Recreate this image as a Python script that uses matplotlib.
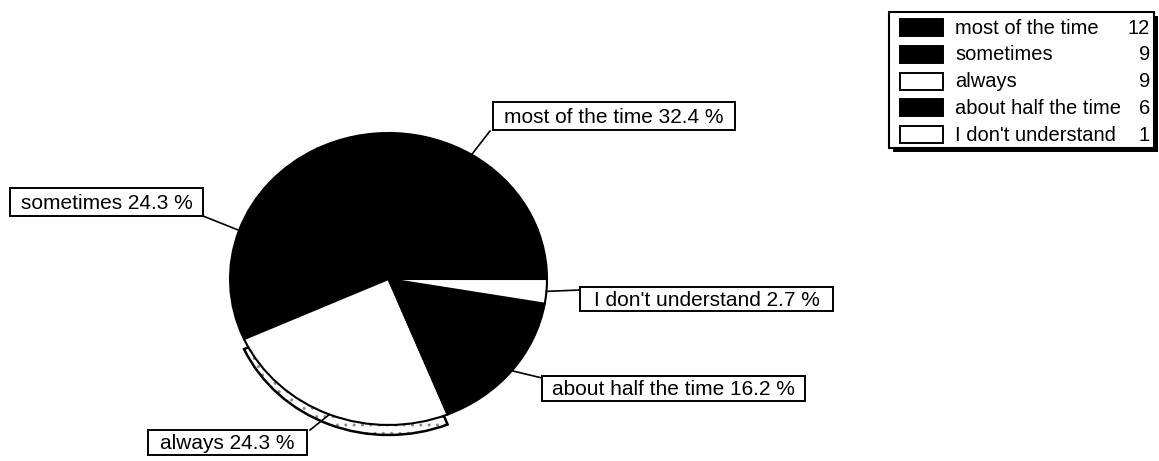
import matplotlib
matplotlib.use("Agg")
import matplotlib.pyplot as plt
import matplotlib.patches as mpatches
import numpy as np

# Survey responses
categories = ["most of the time", "sometimes", "always", "about half the time", "I don't understand"]
counts = [12, 9, 9, 6, 1]
slice_colors = ["black", "black", "white", "black", "white"]

W, H = 1159, 461
plt.rcParams['font.family'] = ['Liberation Sans', 'DejaVu Sans']

fig = plt.figure(figsize=(W / 100, H / 100), dpi=100)
fig.patch.set_facecolor("white")

# pie area in pixel units (left, top, right, bottom)
pl, pt, pr, pb = 230, 133, 547, 425
cx, cy = (pl + pr) / 2, (pt + pb) / 2
rx, ry = (pr - pl) / 2, (pb - pt) / 2

pax = fig.add_axes([pl / W, 1 - pb / H, (pr - pl) / W, (pb - pt) / H])
wedges, _ = pax.pie(counts, colors=slice_colors, startangle=0, counterclock=True,
                    wedgeprops=dict(edgecolor="black", linewidth=1.5))
pax.set_aspect("auto")
pax.set_xlim(-1, 1)
pax.set_ylim(-1, 1)
pax.axis("off")

# thick rim under the white "always" slice
depth = 10 / ry
w = wedges[2]
rim_fill = mpatches.Wedge((0, -depth), 1, w.theta1, w.theta2, facecolor="white",
                          edgecolor="0.55", hatch="..", linewidth=0, zorder=0.4)
rim_line = mpatches.Wedge((0, -depth), 1, w.theta1, w.theta2, facecolor="none",
                          edgecolor="black", linewidth=1.8, zorder=0.5)
for p in (rim_fill, rim_line):
    p.set_clip_on(False)
    pax.add_patch(p)

# overlay axes in pixel coordinates for labels, leaders and legend
ax = fig.add_axes([0, 0, 1, 1])
ax.set_xlim(0, W)
ax.set_ylim(H, 0)
ax.axis("off")

total = sum(counts)
# label boxes (left, top, right, bottom) and leader end point, in category order
boxes = [
    ((493, 102, 735, 130), (490, 131)),
    ((10, 188, 203, 216), (203, 216)),
    ((148, 430, 307, 455), (310, 430)),
    ((542, 376, 805, 401), (542, 378)),
    ((580, 287, 833, 311), (580, 290)),
]
for name, n, wdg, (box, end) in zip(categories, counts, wedges, boxes):
    mid = np.deg2rad((wdg.theta1 + wdg.theta2) / 2)
    sx = cx + rx * np.cos(mid)
    sy = cy - ry * np.sin(mid)
    ax.plot([sx, end[0]], [sy, end[1]], color="black", lw=1.2, zorder=2)
    l, t, r, b = box
    ax.add_patch(mpatches.Rectangle((l, t), r - l, b - t, facecolor="white",
                                    edgecolor="black", lw=1.4, zorder=3))
    ax.text((l + r) / 2, (t + b) / 2 + 1, f"{name} {100 * n / total:.1f} %",
            ha="center", va="center", fontsize=15, zorder=4)

# legend with drop shadow
lx0, ly0, lx1, ly1 = 889, 12, 1154, 148
ax.add_patch(mpatches.Rectangle((lx0 + 4, ly0 + 4), lx1 - lx0, ly1 - ly0,
                                facecolor="black", edgecolor="none", zorder=2))
ax.add_patch(mpatches.Rectangle((lx0, ly0), lx1 - lx0, ly1 - ly0,
                                facecolor="white", edgecolor="black", lw=1.5, zorder=3))
row_y = 27
for name, n, col in zip(categories, counts, slice_colors):
    ax.add_patch(mpatches.Rectangle((900, row_y - 8), 43, 17, facecolor=col,
                                    edgecolor="black", lw=1.4, zorder=4))
    ax.text(955, row_y + 1, name, ha="left", va="center", fontsize=14.5, zorder=5)
    ax.text(1150, row_y + 1, str(n), ha="right", va="center", fontsize=14.5, zorder=5)
    row_y += 26.8

fig.savefig("out.png", dpi=100, facecolor="white")
